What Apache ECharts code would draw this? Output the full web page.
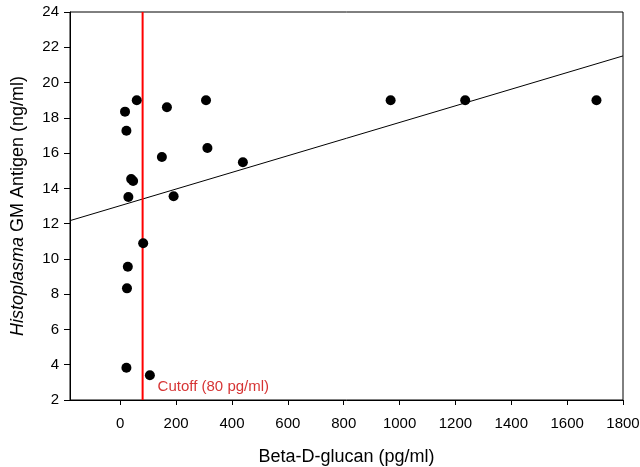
<!DOCTYPE html>
<html>
<head>
<meta charset="utf-8">
<script src="https://cdn.jsdelivr.net/npm/echarts@6/dist/echarts.min.js"></script>
<style>html,body{margin:0;padding:0;background:#fff;}#chart{width:640px;height:467px;}</style>
</head>
<body>
<div id="chart"></div>
<script>
// Beta-D-glucan (pg/ml) vs Histoplasma GM Antigen (ng/ml)
var glucan = [17, 59, 22, 167, 307, 149, 312, 39, 46, 29, 191, 439, 968, 1235, 1705, 82, 27, 24, 22, 106];
var antigen = [18.35, 19.0, 17.27, 18.6, 19.0, 15.78, 16.29, 14.53, 14.42, 13.51, 13.55, 15.48, 19.0, 19.0, 19.0, 10.89, 9.56, 8.33, 3.83, 3.40];
var xTicks = [0, 200, 400, 600, 800, 1000, 1200, 1400, 1600, 1800];
var yTicks = [2, 4, 6, 8, 10, 12, 14, 16, 18, 20, 22, 24];
var fitX = [-180, 1800];
var fitY = [12.17, 21.51];
var cutoff = 80;
var cutoffLabelY = 2.75;

var font = 'Liberation Sans, Arial, sans-serif';
var chart = echarts.init(document.getElementById('chart'));
chart.setOption({
  animation: false,
  grid: {left: 70, right: 17, top: 12, bottom: 67, show: true, borderColor: '#000', borderWidth: 1, outerBoundsMode: 'none'},
  xAxis: {
    type: 'value', min: -180, max: 1800,
    name: 'Beta-D-glucan (pg/ml)', nameLocation: 'middle', nameGap: 48,
    nameTextStyle: {fontFamily: font, fontSize: 18, color: '#000'},
    axisLine: {show: true, onZero: false, lineStyle: {color: '#000', width: 1}},
    axisTick: {show: true, length: 5, inside: false, customValues: xTicks, lineStyle: {color: '#000'}},
    axisLabel: {customValues: xTicks, margin: 16, fontFamily: font, fontSize: 15, color: '#000',
      formatter: function (v) { return String(v); }},
    splitLine: {show: false}
  },
  yAxis: {
    type: 'value', min: 2, max: 24, interval: 2,
    name: '{i|Histoplasma} GM Antigen (ng/ml)', nameLocation: 'middle', nameGap: 43, nameRotate: 90,
    nameTextStyle: {fontFamily: font, fontSize: 18, color: '#000', rich: {i: {fontFamily: font, fontSize: 18, fontStyle: 'italic', color: '#000'}}},
    axisLine: {show: true, onZero: false, lineStyle: {color: '#000', width: 1}},
    axisTick: {show: true, length: 6, inside: false, lineStyle: {color: '#000'}},
    axisLabel: {margin: 11, fontFamily: font, fontSize: 15, color: '#000',
      formatter: function (v) { return String(v); }},
    splitLine: {show: false}
  },
  series: [
    {
      type: 'line', data: [[fitX[0], fitY[0]], [fitX[1], fitY[1]]], symbol: 'none',
      lineStyle: {color: '#000', width: 1}, z: 2
    },
    {
      type: 'line', data: [[cutoff, 2], [cutoff, 24]], symbol: 'none',
      lineStyle: {color: '#ff0000', width: 2}, z: 3
    },
    {
      type: 'scatter', data: [[cutoff, cutoffLabelY]], symbolSize: 0,
      label: {show: true, position: 'right', distance: 15, formatter: 'Cutoff (80 pg/ml)', fontFamily: font, fontSize: 15, color: '#cc0000'},
      z: 4
    },
    {
      type: 'scatter', data: glucan.map(function (g, i) { return [g, antigen[i]]; }),
      symbol: 'circle', symbolSize: 10, itemStyle: {color: '#000', opacity: 1}, z: 5
    }
  ]
});
</script>
</body>
</html>
